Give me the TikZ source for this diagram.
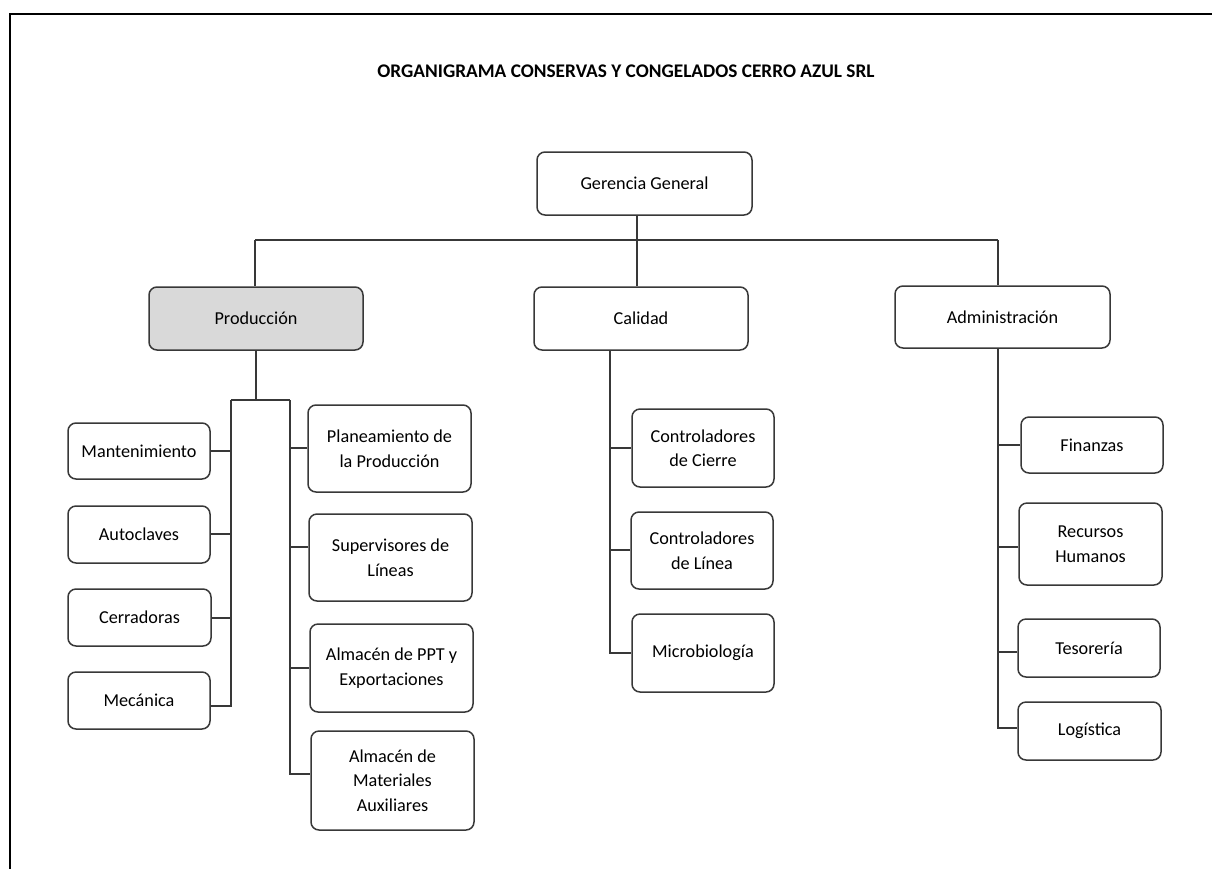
\documentclass[tikz,border=0pt]{standalone}
\usepackage{fontspec}
\setmainfont{Carlito}
\definecolor{ln}{HTML}{383838}
\definecolor{pfill}{HTML}{D9D9D9}
\begin{document}
\begin{tikzpicture}[x=1pt,y=-1pt,
  box/.style={draw=ln,line width=1.5pt,rounded corners=8pt,fill=white,inner sep=0pt,align=center,
    font=\fontsize{18.2}{24.5}\selectfont,text=black},
  conn/.style={draw=ln,line width=1.5pt}]
\useasboundingbox (0,0) rectangle (1212,868);
\begin{scope}
\clip (0,0) rectangle (1212,868);
\draw[line width=2pt,black] (10,14) rectangle (1240,900);
\end{scope}
\node[font=\fontsize{19.3}{22}\selectfont\bfseries] (title) at (626,71) {ORGANIGRAMA CONSERVAS Y CONGELADOS CERRO AZUL SRL};
% level 1
\node[box,minimum width=215pt,minimum height=63pt] (gg) at (644.5,183.5) {Gerencia General};
% level 2
\node[box,fill=pfill,minimum width=214pt,minimum height=63pt] (prod) at (256,318.5) {Producción};
\node[box,minimum width=214pt,minimum height=63pt] (cal) at (641,318.5) {Calidad};
\node[box,minimum width=215pt,minimum height=62pt] (adm) at (1002.5,317) {Administración};
% production left
\node[box,minimum width=142pt,minimum height=56pt] (mant) at (139,451) {Mantenimiento};
\node[box,minimum width=142pt,minimum height=57pt] (auto) at (139,534.5) {Autoclaves};
\node[box,minimum width=143pt,minimum height=57pt] (cerr) at (139.5,617.5) {Cerradoras};
\node[box,minimum width=142pt,minimum height=57pt] (mec) at (139,700.5) {Mecánica};
% production right
\node[box,minimum width=163pt,minimum height=87pt] (plan) at (389.5,448.5) {Planeamiento de\\la Producción};
\node[box,minimum width=163pt,minimum height=87pt] (sup) at (390.5,557.5) {Supervisores de\\Líneas};
\node[box,minimum width=163pt,minimum height=88pt] (ppt) at (391.5,668) {Almacén de PPT y\\Exportaciones};
\node[box,minimum width=163pt,minimum height=99pt] (mat) at (392.5,780.5) {Almacén de\\Materiales\\Auxiliares};
% calidad
\node[box,minimum width=142pt,minimum height=78pt] (cc) at (703,448) {Controladores\\de Cierre};
\node[box,minimum width=142pt,minimum height=77pt] (cl) at (702,550.5) {Controladores\\de Línea};
\node[box,minimum width=142pt,minimum height=78pt] (mic) at (703,653) {Microbiología};
% administracion
\node[box,minimum width=142pt,minimum height=56pt] (fin) at (1092,445) {Finanzas};
\node[box,minimum width=143pt,minimum height=82pt] (rh) at (1090.5,544) {Recursos\\Humanos};
\node[box,minimum width=142pt,minimum height=58pt] (tes) at (1089,648) {Tesorería};
\node[box,minimum width=143pt,minimum height=58pt] (log) at (1089.5,731) {Logística};
% top connectors
\coordinate (busL) at (255,240);
\coordinate (busR) at (998,240);
\draw[conn] (busL) -- (busR);
\draw[conn] (busL) -- (busL |- prod.north);
\draw[conn] (busR) -- (busR |- adm.north);
\draw[conn] ([xshift=-7.5pt]gg.south) -- ([xshift=-4pt]cal.north);
% production connectors
\coordinate (pl) at (231,400);
\coordinate (pr) at (290,400);
\draw[conn] (prod.south) -- (prod.south |- pl);
\draw[conn] (pl) -- (pr);
\draw[conn] (pl) |- ([yshift=-5.5pt]mec.east);
\draw[conn] (mant.east) -- (mant.east -| pl);
\draw[conn] ([yshift=0.5pt]auto.east) -- ([yshift=0.5pt]auto.east -| pl);
\draw[conn] ([yshift=-0.5pt]cerr.east) -- ([yshift=-0.5pt]cerr.east -| pl);
\draw[conn] (pr) |- ([yshift=6.5pt]mat.west);
\draw[conn] ([yshift=0.5pt]plan.west) -- ([yshift=0.5pt]plan.west -| pr);
\draw[conn] ([yshift=10.5pt]sup.west) -- ([yshift=10.5pt]sup.west -| pr);
\draw[conn] (ppt.west) -- (ppt.west -| pr);
% calidad connectors
\coordinate (cb) at ([xshift=-31pt]cal.south);
\draw[conn] (cb) |- (mic.west);
\draw[conn] (cc.west) -- (cc.west -| cb);
\draw[conn] ([yshift=0.5pt]cl.west) -- ([yshift=0.5pt]cl.west -| cb);
% administracion connectors
\coordinate (ab) at ([xshift=-4.5pt]adm.south);
\draw[conn] (ab) |- ([yshift=3pt]log.west);
\draw[conn] (fin.west) -- (fin.west -| ab);
\draw[conn] ([yshift=-3pt]rh.west) -- ([yshift=-3pt]rh.west -| ab);
\draw[conn] ([yshift=-4pt]tes.west) -- ([yshift=-4pt]tes.west -| ab);
\end{tikzpicture}
\end{document}
